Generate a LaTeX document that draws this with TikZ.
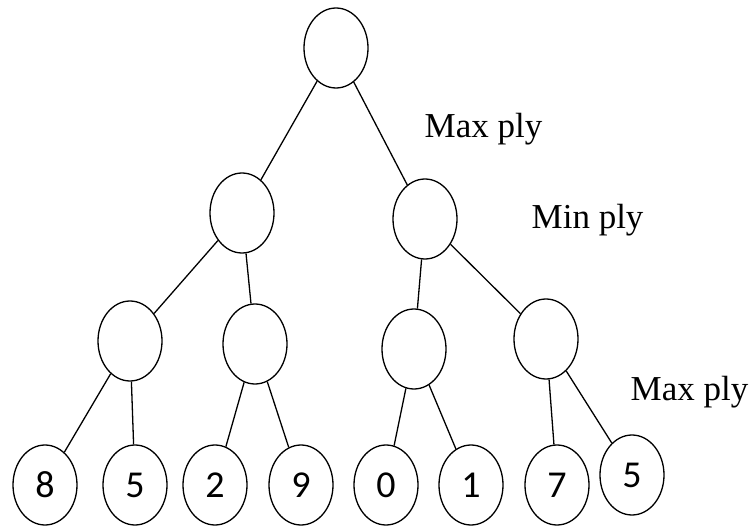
\documentclass[tikz,border=0pt]{standalone}
\usepackage{fontspec}
\setmainfont{Liberation Serif}
\newfontfamily\digfont{Carlito}
\usetikzlibrary{shapes.geometric}

\begin{document}
\begin{tikzpicture}[x=1pt,y=-1pt,line width=1.3pt] %% tikz
		\tikzstyle{nd}=[ellipse,draw,minimum width=64pt,minimum height=80pt,inner sep=0pt]
		\tikzstyle{ply}=[anchor=base west,inner sep=0pt,font=\fontsize{35}{35}\selectfont]
		\useasboundingbox (0,0) rectangle (755,526);
		%% root and min ply
		\node[nd] (r) at (336,48) {};
		\node[nd] (a) at (242,213) {};
		\node[nd] (b) at (425,219) {};
		%% max ply
		\node[nd] (aa) at (130,341) {};
		\node[nd] (ab) at (255,344) {};
		\node[nd] (ba) at (414,349) {};
		\node[nd] (bb) at (546,339) {};
		%% leaves
		\foreach \n/\x/\y/\v in {1/45/485/8,2/135/485/5,3/215/485/2,4/301/485/9,
			5/386/485/0,6/471/485/1,7/557/485/7,8/632/475/5}
			{\node[nd,font=\digfont\fontsize{38}{38}\selectfont] (l\n) at (\x,\y) {\v};}
		%% edges
		\draw (r) -- (a);
		\draw (r) -- (b);
		\draw (a) -- (aa);
		\draw (a) -- (ab);
		\draw (b) -- (ba);
		\draw (b) -- (bb);
		\draw (aa) -- (l1);
		\draw (aa) -- (l2);
		\draw (ab) -- (l3);
		\draw (ab) -- (l4);
		\draw (ba) -- (l5);
		\draw (ba) -- (l6);
		\draw (bb) -- (l7);
		\draw (bb) -- (l8);
		%% ply labels
		\node[ply] (p1) at (424,138) {Max ply};
		\node[ply] (p2) at (531,229) {Min ply};
		\node[ply] (p3) at (630,400) {Max ply};
	\end{tikzpicture}
\end{document}
